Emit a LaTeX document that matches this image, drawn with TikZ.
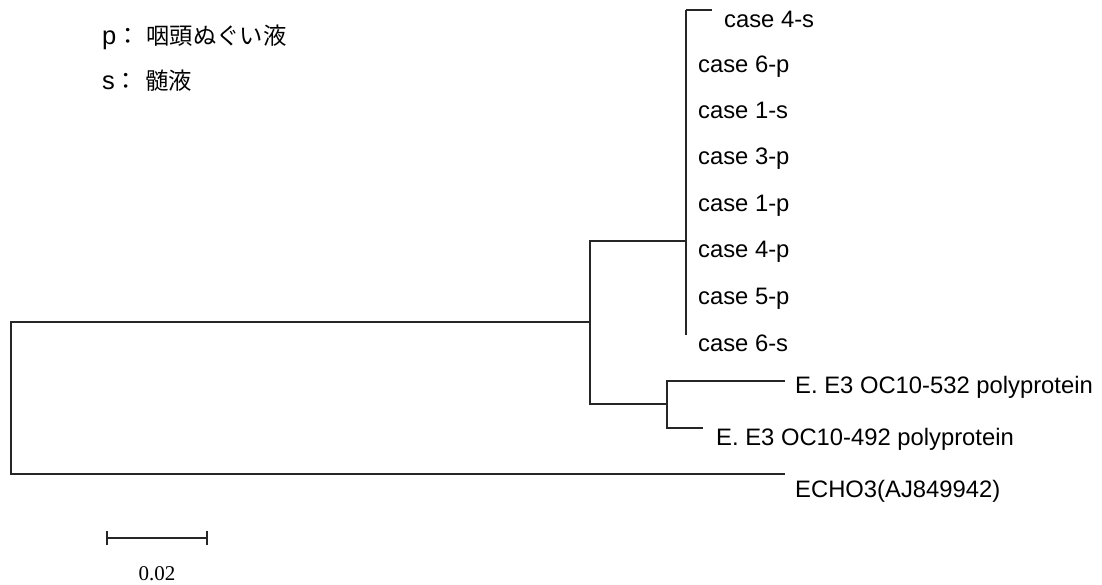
\documentclass[tikz,border=0pt]{standalone}
\usepackage{fontspec}
\setmainfont{Liberation Sans}
\newfontfamily\cjk{Noto Sans CJK JP}
\newfontfamily\serifnum{Liberation Serif}
\begin{document}
\begin{tikzpicture}[x=1pt,y=-1pt,
  branch/.style={line width=1.3pt,color=black!85},
  leaf/.style={anchor=base west,inner sep=0pt,font=\fontsize{23.8}{28}\selectfont},
  legend/.style={anchor=base west,inner sep=0pt,font=\fontsize{25.5}{28}\selectfont}]
\useasboundingbox (0,0) rectangle (1102,584);
% tree coordinates
\coordinate (root) at (11,398);
\coordinate (n1) at (590,322);
\coordinate (cases) at (686,241);
\coordinate (ctop) at (686,10);
\coordinate (cbot) at (686,335);
\coordinate (n2) at (667,404);
\coordinate (t4s) at (712,10);
\coordinate (t532) at (785,381);
\coordinate (t492) at (703,428);
\coordinate (techo) at (785,474);
% branches
\draw[branch] (root) |- (n1);
\draw[branch] (root) |- (techo);
\draw[branch] (n1) |- (cases);
\draw[branch] (n1) |- (n2);
\draw[branch] (ctop) -- (cbot);
\draw[branch] (ctop) -- (t4s);
\draw[branch] (n2) |- (t532);
\draw[branch] (n2) |- (t492);
% leaf labels
\node[leaf] (c4s) at (724,27) {case 4-s};
\node[leaf] (c6p) at (698,72) {case 6-p};
\node[leaf] (c1s) at (698,118) {case 1-s};
\node[leaf] (c3p) at (698,164) {case 3-p};
\node[leaf] (c1p) at (698,211) {case 1-p};
\node[leaf] (c4p) at (698,257) {case 4-p};
\node[leaf] (c5p) at (698,304) {case 5-p};
\node[leaf] (c6s) at (698,351) {case 6-s};
\node[leaf] (l532) at (795,393) {E. E3 OC10-532 polyprotein};
\node[leaf] (l492) at (716,445) {E. E3 OC10-492 polyprotein};
\node[leaf] (lecho) at (795,497) {ECHO3(AJ849942)};
% legend
\node[legend] (lp) at (102,44) {p{\cjk\fontsize{23.3}{28}\selectfont ：\kern7pt 咽頭ぬぐい液}};
\node[legend] (ls) at (102,89) {s{\cjk\fontsize{23.3}{28}\selectfont ：\kern7pt 髄液}};
% scale bar
\coordinate (sa) at (107,538);
\coordinate (sb) at (207,538);
\draw[branch,line width=1.2pt] (sa) -- (sb);
\draw[branch,line width=1.2pt] ([yshift=-7pt]sa) -- ([yshift=7pt]sa);
\draw[branch,line width=1.2pt] ([yshift=-7pt]sb) -- ([yshift=7pt]sb);
\node[anchor=base,inner sep=0pt,font=\serifnum\fontsize{21}{24}\selectfont] (scale) at (157,580) {0.02};
\end{tikzpicture}
\end{document}
